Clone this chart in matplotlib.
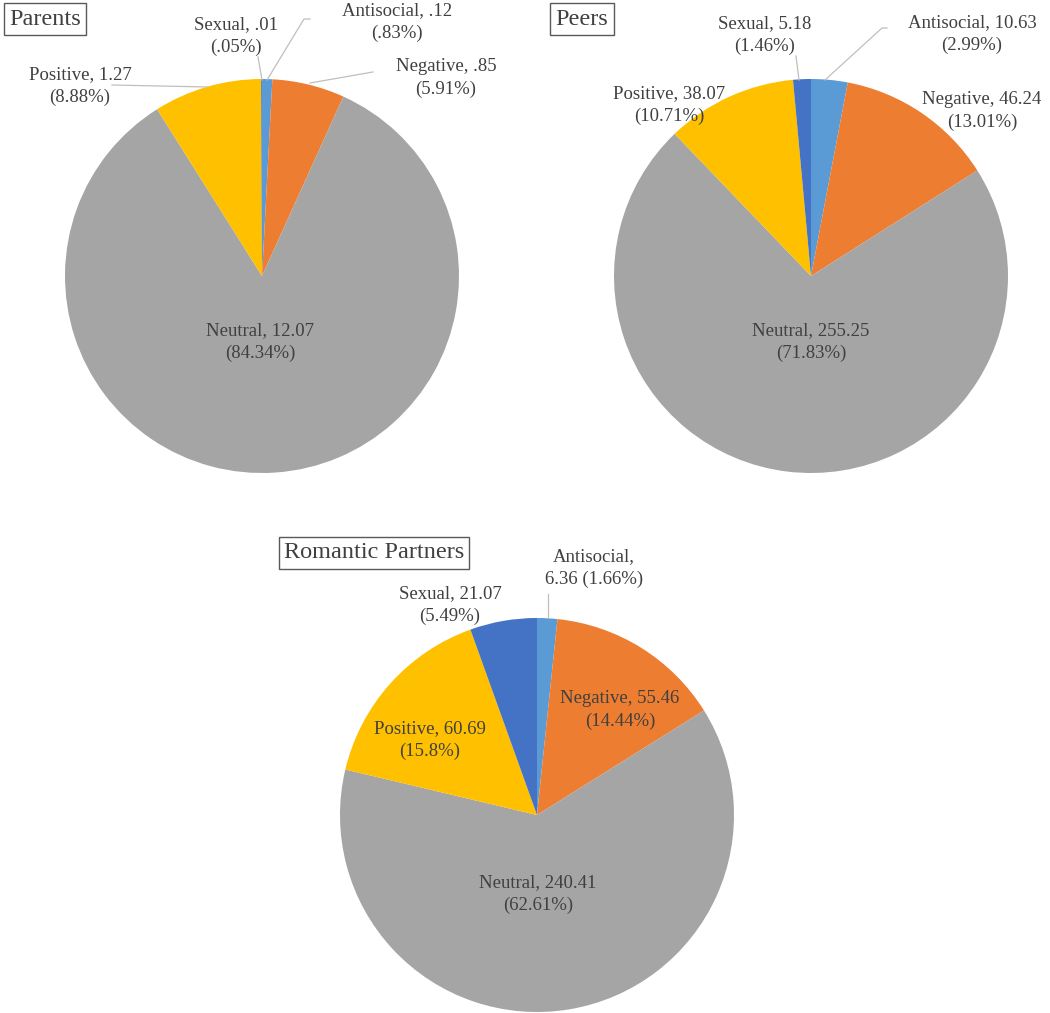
import matplotlib.pyplot as plt

plt.rcParams['font.family'] = ['Liberation Serif', 'DejaVu Serif']

# slice order, clockwise from 12 o'clock
categories = ['Antisocial', 'Negative', 'Neutral', 'Positive', 'Sexual']
colors = ['#5B9BD5', '#ED7D31', '#A5A5A5', '#FFC000', '#4472C4']

parents_vals = [0.12, 0.85, 12.07, 1.27, 0.01]
parents_txt = ['.12', '.85', '12.07', '1.27', '.01']
parents_pct = ['.83%', '5.91%', '84.34%', '8.88%', '.05%']

peers_vals = [10.63, 46.24, 255.25, 38.07, 5.18]
peers_txt = ['10.63', '46.24', '255.25', '38.07', '5.18']
peers_pct = ['2.99%', '13.01%', '71.83%', '10.71%', '1.46%']

romantic_vals = [6.36, 55.46, 240.41, 60.69, 21.07]
romantic_txt = ['6.36', '55.46', '240.41', '60.69', '21.07']
romantic_pct = ['1.66%', '14.44%', '62.61%', '15.8%', '5.49%']

titles = ['Parents', 'Peers', 'Romantic Partners']

W, H = 1050, 1013
TXT = '#404040'
LINE = '#BFBFBF'

fig = plt.figure(figsize=(W / 100, H / 100), dpi=100)
ax = fig.add_axes([0, 0, 1, 1])


def Y(y):  # pixel row -> data y
    return H - y


# pie layout: center (px), radius, title center, label centers, leader lines
pies = [
    dict(vals=parents_vals, txt=parents_txt, pct=parents_pct, title=titles[0],
         center=(262, 276), r=197, tpos=(45, 19),
         lpos=[(397, 22), (446, 78), (260, 342), (80, 86), (236, 36)],
         lines=[[(258, 57), (262, 80)],
                [(310, 19), (304, 19), (267, 80)],
                [(373, 72), (310, 83)],
                [(112, 85), (208, 87)]]),
    dict(vals=peers_vals, txt=peers_txt, pct=peers_pct, title=titles[1],
         center=(811, 276), r=197, tpos=(582, 19),
         lpos=[(972, 34), (982, 111), (811, 342), (669, 105), (765, 35)],
         lines=[[(796, 56), (799, 80)],
                [(887, 28), (882, 28), (825, 80)]]),
    dict(vals=romantic_vals, txt=romantic_txt, pct=romantic_pct, title=titles[2],
         center=(537, 815), r=197, tpos=(374, 553),
         lpos=[(594, 568), (620, 710), (538, 894), (430, 740), (450, 605)],
         lines=[[(548, 594), (548, 617)]]),
]

for p in pies:
    cx, cy = p['center']
    ax.pie(p['vals'], colors=colors, startangle=90, counterclock=False,
           center=(cx, Y(cy)), radius=p['r'], frame=True,
           wedgeprops=dict(linewidth=0))
    for ln in p['lines']:
        ax.plot([q[0] for q in ln], [Y(q[1]) for q in ln], color=LINE, lw=0.9)
    for i, cat in enumerate(categories):
        if p['title'] == 'Romantic Partners' and cat == 'Antisocial':
            label = f"{cat},\n{p['txt'][i]} ({p['pct'][i]})"
        else:
            label = f"{cat}, {p['txt'][i]}\n({p['pct'][i]})"
        x, y = p['lpos'][i]
        ax.text(x, Y(y), label, ha='center', va='center', fontsize=13.5,
                color=TXT, linespacing=1.38)
    tx, ty = p['tpos']
    ax.text(tx, Y(ty), p['title'], ha='center', va='center', fontsize=17.5,
            color=TXT,
            bbox=dict(boxstyle='square,pad=0.22', facecolor='white',
                      edgecolor='#595959', linewidth=1))

ax.set_xlim(0, W)
ax.set_ylim(0, H)
ax.set_aspect('equal')
ax.axis('off')

plt.savefig('out.png', dpi=100, facecolor='white')
